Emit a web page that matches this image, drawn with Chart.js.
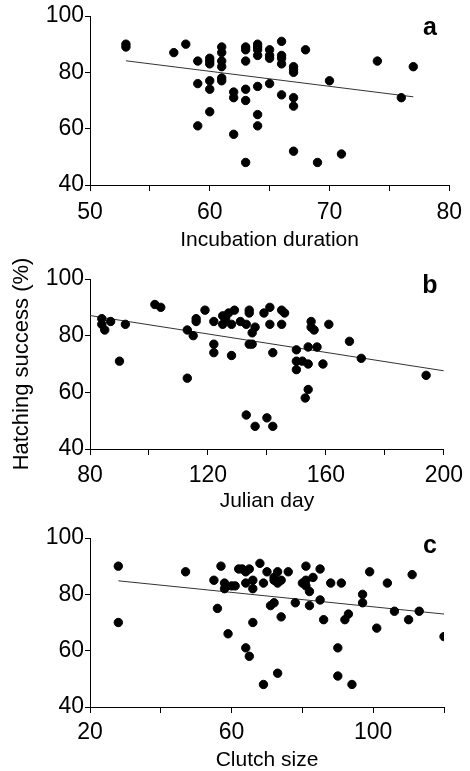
<!DOCTYPE html>
<html>
<head>
<meta charset="utf-8">
<script src="https://cdn.jsdelivr.net/npm/chart.js@4"></script>
<style>
  body { margin: 0; background: #fff; width: 470px; height: 771px; position: relative; overflow: hidden; }
  canvas { position: absolute; left: 0; }
</style>
</head>
<body>
<canvas id="chartA" width="470" height="256" style="top:0"></canvas>
<canvas id="chartB" width="470" height="257" style="top:256px"></canvas>
<canvas id="chartC" width="470" height="258" style="top:513px"></canvas>
<script>
// panel a: incubation duration vs hatching success
const incubX = [53,53,57,58,59,59,59,60,60,60,60,60,60,61,61,61,61,61,61,62,62,62,63,63,63,63,63,63,64,64,64,64,64,64,64,65,65,65,65,66,66,66,66,66,67,67,67,67,67,67,68,69,70,71,74,76,77];
const incubY = [90,89,87,90,84,76,61,85,84,83,77,74,66,89,87,84,82,78,77,73,71,58,89,88,84,74,70,48,90,89,88,86,75,65,61,88,86,85,76,91,86,85,83,72,82,81,80,71,68,52,88,48,77,51,84,71,82];
const incubFitX = [53, 77];
const incubFitY = [84.1, 71.3];

// panel b: julian day
const julianX = [84,84,85,87,90,92,102,104,113,113,115,116,116,119,122,122,122,125,125,126,127,128,128,129,131,133,133,134,134,134,135,135,136,136,139,141,141,140,142,142,145,146,145,150,150,150,152,154,154,154,153,157,159,155,155,156,161,168,172,194];
const julianY = [86,84,82,85,71,84,91,90,82,65,80,86,85,89,85,77,74,87,84,86,88,84,73,89,85,84,52,89,88,77,77,81,83,48,88,90,84,51,74,48,89,88,84,75,71,68,71,76,70,61,58,76,70,85,83,82,84,78,72,66];
const julianFitX = [80, 200];
const julianFitY = [87.1, 67.6];

// panel c: clutch size
const clutchX = [28,28,47,55,56,57,58,58,60,61,59,62,63,64,65,64,66,66,66,64,65,68,69,70,69,71,72,72,72,73,73,74,74,73,76,78,81,80,81,81,82,82,83,85,85,86,88,91,90,90,92,93,94,97,97,99,101,104,106,110,111,113,120];
const clutchY = [90,70,88,85,75,90,84,82,83,83,66,89,89,88,89,84,85,82,70,61,58,91,84,88,48,76,77,86,85,88,84,85,72,52,88,77,90,84,85,83,81,76,86,89,78,71,84,84,61,51,71,73,48,80,77,88,68,84,74,71,87,74,65];
const clutchFitX = [28, 120];
const clutchFitY = [84.8, 73];

const yTickLabels = [40, 60, 80, 100];
const incubTickLabels = [50, 60, 70, 80];
const julianTickLabels = [80, 120, 160, 200];
const clutchTickLabels = [20, 60, 100];

const FONT = "'Liberation Sans', Arial, sans-serif";

const panelLetter = {
  id: "panelLetter",
  afterDraw(chart, args, opts) {
    const ctx = chart.ctx;
    ctx.save();
    ctx.font = "bold 25px " + FONT;
    ctx.fillStyle = "#000";
    ctx.textAlign = "center";
    ctx.textBaseline = "alphabetic";
    ctx.fillText(opts.text, opts.x, chart.chartArea.top + opts.dy);
    ctx.restore();
  }
};

function toPoints(xs, ys) {
  return xs.map((x, i) => ({ x: x, y: ys[i] }));
}

function makePanel(id, xs, ys, fitX, fitY, xr, xLabels, xTitle, letter, extra) {
  new Chart(document.getElementById(id), {
    type: "scatter",
    data: {
      datasets: [
        {
          data: toPoints(xs, ys),
          backgroundColor: "#000",
          borderColor: "#000",
          pointRadius: 4.2,
          pointHoverRadius: 4.2
        },
        {
          type: "line",
          data: toPoints(fitX, fitY),
          borderColor: "#333",
          borderWidth: 1,
          pointRadius: 0,
          fill: false
        }
      ]
    },
    options: {
      responsive: false,
      animation: false,
      devicePixelRatio: 1,
      layout: { padding: { top: extra.top, right: extra.right, left: 0, bottom: 0 } },
      plugins: {
        legend: { display: false },
        tooltip: { enabled: false },
        panelLetter: { text: letter, x: 430, dy: extra.letterDy }
      },
      scales: {
        x: {
          type: "linear",
          min: xr[0],
          max: xr[1],
          afterFit: s => { s.height = extra.xHeight; },
          border: { color: "#000", width: 1 },
          grid: { drawOnChartArea: false, color: "#000", tickLength: 6 },
          ticks: {
            stepSize: xr[2],
            color: "#000",
            padding: extra.tickPad,
            maxRotation: 0,
            autoSkip: false,
            font: { family: FONT, size: 23 },
            callback: v => xLabels.includes(v) ? String(v) : ""
          },
          title: {
            display: true,
            text: xTitle,
            color: "#000",
            padding: { top: 0, bottom: extra.titlePad },
            font: { family: FONT, size: 21, lineHeight: 1 }
          }
        },
        y: {
          min: 40,
          max: 100,
          afterFit: s => { s.width = 90; },
          border: { color: "#000", width: 1 },
          grid: { drawOnChartArea: false, color: "#000", tickLength: 5 },
          ticks: {
            stepSize: 20,
            color: "#000",
            padding: 1,
            font: { family: FONT, size: 23 },
            callback: v => yTickLabels.includes(v) ? String(v) : ""
          },
          title: {
            display: extra.yTitle,
            text: "Hatching success (%)",
            color: "#000",
            padding: { top: 11, bottom: 0 },
            font: { family: FONT, size: 22, lineHeight: 1 }
          }
        }
      }
    },
    plugins: [panelLetter]
  });
}

makePanel("chartA", incubX, incubY, incubFitX, incubFitY, [50, 80, 5], incubTickLabels,
  "Incubation duration", "a", { top: 16, right: 19, xHeight: 71, tickPad: 8, titlePad: 5, letterDy: 19, yTitle: false });
makePanel("chartB", julianX, julianY, julianFitX, julianFitY, [80, 200, 20], julianTickLabels,
  "Julian day", "b", { top: 23, right: 26, xHeight: 64, tickPad: 7, titlePad: 1, letterDy: 14, yTitle: true });
makePanel("chartC", clutchX, clutchY, clutchFitX, clutchFitY, [20, 120, 20], clutchTickLabels,
  "Clutch size", "c", { top: 25, right: 26, xHeight: 64, tickPad: 6, titlePad: 0, letterDy: 15, yTitle: false });
</script>
</body>
</html>
